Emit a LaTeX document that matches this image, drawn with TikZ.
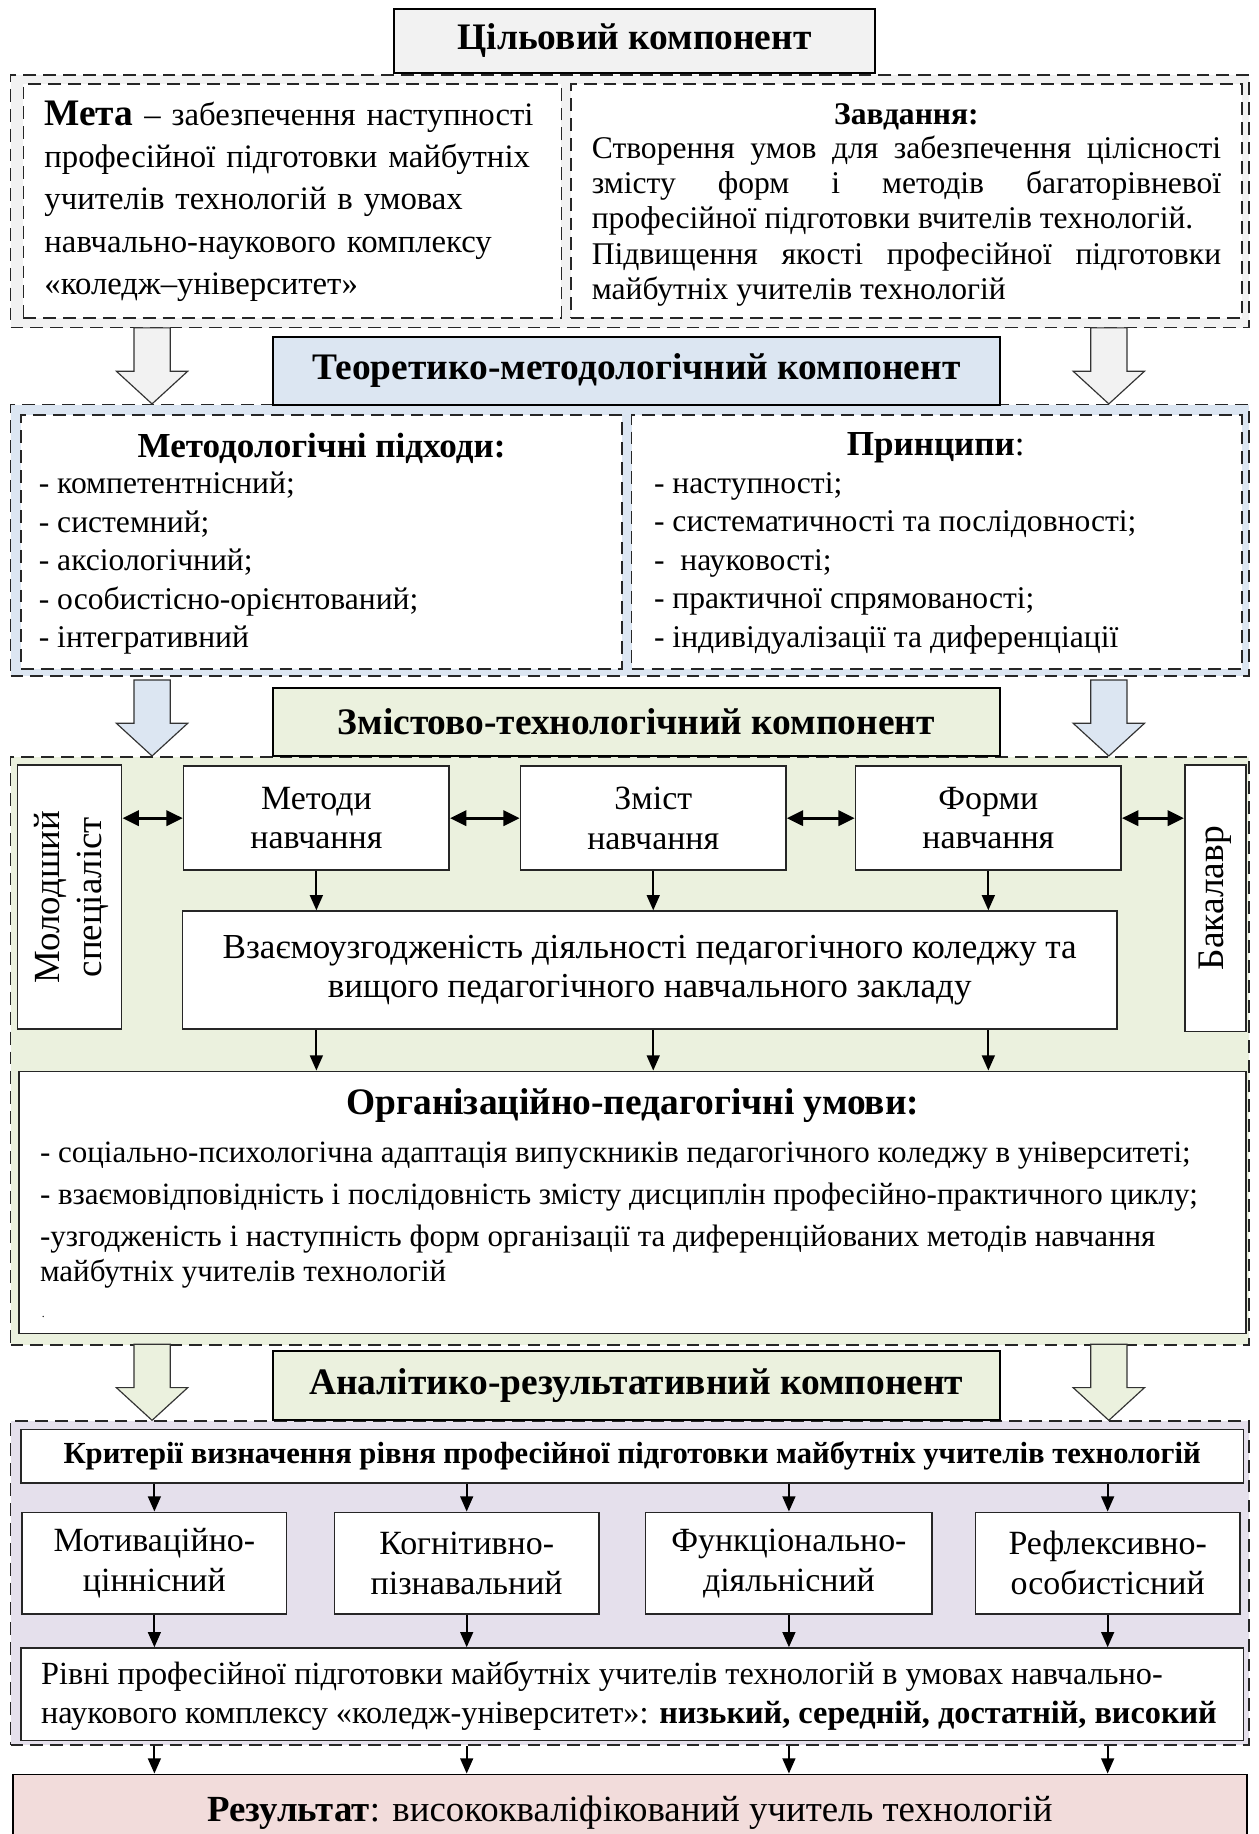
\documentclass[tikz,border=0pt]{standalone}
\usepackage{fontspec}
\setmainfont{Liberation Serif}
\usetikzlibrary{arrows.meta,shapes.arrows}

\definecolor{goalgray}{HTML}{F2F2F2}
\definecolor{theoblue}{HTML}{DCE6F2}
\definecolor{contgreen}{HTML}{EBF1DE}
\definecolor{analilac}{HTML}{E5E0EC}
\definecolor{respink}{HTML}{F2DCDB}

\tikzstyle{dashframe}=[draw=black!85,line width=1.3pt,
                       dash pattern=on 11pt off 6pt,inner sep=0pt]
\tikzstyle{dashbox}=[dashframe,fill=white]
\tikzstyle{titlebox}=[draw=black,line width=1.7pt,inner sep=0pt,
                      font=\fontsize{32}{36}\selectfont\bfseries]
\tikzstyle{plainbox}=[draw=black!85,line width=1.4pt,fill=white,
                      inner sep=0pt,align=center,
                      font=\fontsize{29}{34}\selectfont]
\tikzstyle{bigarrow}=[single arrow,draw=black!80,line width=1pt,
                      rotate=-90,anchor=tip,inner xsep=0pt,inner ysep=15pt,
                      minimum height=65pt,
                      single arrow head extend=15pt,
                      single arrow tip angle=95]
\tikzstyle{arr}=[line width=1.6pt,-{Triangle[length=13pt,width=11pt]}]
\tikzstyle{dblarr}=[line width=2.6pt,
  {Triangle[length=14pt,width=13pt]}-{Triangle[length=14pt,width=13pt]}]

\begin{document}
\begin{tikzpicture}[x=1pt,y=-1pt]
  \useasboundingbox (0,0) rectangle (1076,1568);

  % goal component
  \node (goalframe) at (538.5,172) [dashframe,fill=goalgray,
        minimum width=1059,minimum height=216]{};
  \node (goal) at (542.5,35) [titlebox,fill=goalgray,
        minimum width=411,minimum height=54]{Цільовий компонент};
  \node (aim) at (250,172) [dashbox,minimum width=460,minimum height=200,
        text width=424,inner xsep=18pt,align=left,
        font=\fontsize{28}{36}\selectfont]
        {{\fontsize{32}{36}\selectfont\bfseries Мета} – забезпечення наступності\\
         професійної підготовки майбутніх\\
         учителів технологій в умовах\\
         навчально-наукового комплексу\\
         «коледж–університет»};
  \node (taskbox) at (775,172) [dashbox,minimum width=574,minimum height=200]{};
  \node (tasktitle) at (775,100) [font=\fontsize{27}{30}\selectfont\bfseries]{Завдання:};
  \node (task) at (775,189) [text width=538,align=justify,inner sep=0pt,
        font=\fontsize{27}{30}\selectfont]
        {Створення умов для забезпечення цілісності\linebreak
         змісту форм і методів багаторівневої\linebreak
         професійної підготовки вчителів технологій.\par
         Підвищення якості професійної підготовки\linebreak
         майбутніх учителів технологій};

  % theory component
  \node (theoframe) at (538.5,462) [dashframe,fill=theoblue,
        minimum width=1059,minimum height=232]{};
  \node (theo) at (544,317) [titlebox,fill=theoblue,
        minimum width=622,minimum height=58]{Теоретико-методологічний компонент};
  \node (appbox) at (275,463.5) [dashbox,minimum width=514,minimum height=217]{};
  \node (apptitle) at (275,383) [font=\fontsize{30}{33}\selectfont\bfseries]{Методологічні підходи:};
  \node (app) at (33,481.5) [anchor=west,align=left,inner sep=0pt,
        font=\fontsize{27}{33}\selectfont]
        {- компетентнісний;\\- системний;\\- аксіологічний;\\
         - особистісно-орієнтований;\\- інтегративний};
  \node (prinbox) at (801,463.5) [dashbox,minimum width=522,minimum height=217]{};
  \node (printitle) at (800,383) [font=\fontsize{30}{33}\selectfont]{\textbf{Принципи}:};
  \node (prin) at (559,481.5) [anchor=west,align=left,inner sep=0pt,
        font=\fontsize{27}{33}\selectfont]
        {- наступності;\\- систематичності та послідовності;\\-\ \ науковості;\\
         - практичної спрямованості;\\- індивідуалізації та диференціації};

  % content component
  \node (contframe) at (538.5,898.5) [dashframe,fill=contgreen,
        minimum width=1059,minimum height=503]{};
  \node (cont) at (544,617) [titlebox,fill=contgreen,
        minimum width=622,minimum height=58]{Змістово-технологічний компонент};
  \node (junior) at (59.5,767) [plainbox,minimum width=89,minimum height=226]{};
  \node (juniortext) at (61,767) [rotate=90,align=center,
        font=\fontsize{31.5}{36}\selectfont]{Молодший\\спеціаліст};
  \node (meth) at (270.5,699.5) [plainbox,minimum width=227,minimum height=89]{Методи\\навчання};
  \node (subj) at (558.5,699.5) [plainbox,minimum width=227,minimum height=89]{Зміст\\навчання};
  \node (form) at (845,699.5) [plainbox,minimum width=227,minimum height=89]{Форми\\навчання};
  \node (bach) at (1039,768) [plainbox,minimum width=52,minimum height=228]{};
  \node (bachtext) at (bach) [rotate=90,font=\fontsize{32}{36}\selectfont]{Бакалавр};
  \node (agree) at (555.5,829.5) [plainbox,minimum width=799,minimum height=101,
        font=\fontsize{30}{34}\selectfont]
        {Взаємоузгодженість діяльності педагогічного коледжу та\\
         вищого педагогічного навчального закладу};
  \node (org) at (540.5,1028) [plainbox,minimum width=1049,minimum height=224]{};
  \node (orgtitle) at (541,945) [font=\fontsize{32}{36}\selectfont\bfseries]
        {Організаційно-педагогічні умови:};
  \node (orgtext) at (34,1039) [anchor=west,align=left,inner sep=0pt,
        font=\fontsize{26.5}{30}\selectfont]
        {- соціально-психологічна адаптація випускників педагогічного коледжу в університеті;\\[6pt]
         - взаємовідповідність і послідовність змісту дисциплін професійно-практичного циклу;\\[6pt]
         -узгодженість і наступність форм організації та диференційованих методів навчання\\
         майбутніх учителів технологій};
  \node (orgdot) at (37,1126) [inner sep=0pt,font=\fontsize{10}{12}\selectfont]{.};

  \draw[dblarr] (junior.east |- meth) -- (meth.west);
  \draw[dblarr] (meth) -- (subj);
  \draw[dblarr] (subj) -- (form);
  \draw[dblarr] (form) -- (form -| bach.west);
  \foreach \n in {meth,subj,form}{
    \draw[arr] (\n) -- (\n |- agree.north);
    \draw[arr] (\n |- agree.south) -- (\n |- org.north);
  }

  % analytic component
  \node (anaframe) at (538.5,1353.5) [dashframe,fill=analilac,
        minimum width=1059,minimum height=277]{};
  \node (ana) at (544,1184.5) [titlebox,fill=contgreen,
        minimum width=622,minimum height=59]{Аналітико-результативний компонент};
  \node (crit) at (540.5,1245) [plainbox,minimum width=1045,minimum height=46,
        font=\fontsize{26.2}{30}\selectfont\bfseries]
        {Критерії визначення рівня професійної підготовки майбутніх учителів технологій};
  \node (mot) at (132,1336.5) [plainbox,minimum width=226,minimum height=87]{Мотиваційно-\\ціннісний};
  \node (cog) at (399,1336.5) [plainbox,minimum width=226,minimum height=87]{Когнітивно-\\пізнавальний};
  \node (fun) at (674.5,1336.5) [plainbox,minimum width=245,minimum height=87]{Функціонально-\\діяльнісний};
  \node (refl) at (947,1336.5) [plainbox,minimum width=226,minimum height=87]{Рефлексивно-\\особистісний};
  \node (levels) at (540.5,1448.5) [plainbox,minimum width=1045,minimum height=79]{};
  \node (levtext) at (35,1450) [anchor=west,align=left,inner sep=0pt,
        font=\fontsize{27.6}{34}\selectfont]
        {Рівні професійної підготовки майбутніх учителів технологій в умовах навчально-\\
         наукового комплексу «коледж-університет»: \textbf{низький, середній, достатній, високий}};
  \node (result) at (538.5,1550) [draw=black,line width=1.4pt,fill=respink,
        minimum width=1055,minimum height=66,inner sep=0pt,
        font=\fontsize{31.5}{36}\selectfont]
        {\textbf{Результат}: висококваліфікований учитель технологій};

  \foreach \n in {mot,cog,fun,refl}{
    \draw[arr] (\n |- crit.south) -- (\n);
    \draw[arr] (\n) -- (\n |- levels.north);
    \draw[arr] (\n |- anaframe.south) -- (\n |- result.north);
  }

  % block arrows between components
  \node (ga1) at (130,346) [bigarrow,fill=goalgray]{};
  \node (ga2) at (948,346) [bigarrow,fill=goalgray]{};
  \node (ta1) at (130,647) [bigarrow,fill=theoblue]{};
  \node (ta2) at (948,647) [bigarrow,fill=theoblue]{};
  \node (ca1) at (130,1215) [bigarrow,fill=contgreen]{};
  \node (ca2) at (948,1215) [bigarrow,fill=contgreen]{};
\end{tikzpicture}
\end{document}
